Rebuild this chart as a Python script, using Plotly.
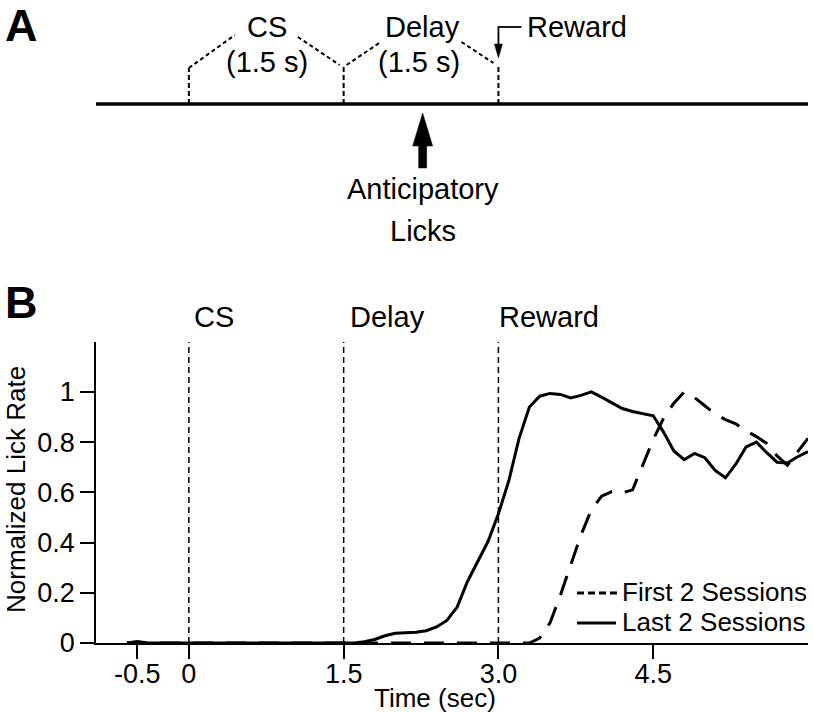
import plotly.graph_objects as go

# ---------------- data ----------------
last_t = [-0.6, -0.5, -0.4, 1.6, 1.7, 1.8, 1.9, 2.0, 2.1, 2.2, 2.3, 2.4, 2.5, 2.6, 2.7, 2.8, 2.9,
          3.0, 3.1, 3.2, 3.3, 3.4, 3.5, 3.6, 3.7, 3.8, 3.9, 4.0, 4.1, 4.2, 4.3, 4.4, 4.5, 4.6,
          4.7, 4.8, 4.9, 5.0, 5.1, 5.2, 5.3, 5.4, 5.5, 5.6, 5.7, 5.8, 5.9, 6.0]
last_y = [0.0, 0.006, 0.0, 0.0, 0.005, 0.014, 0.029, 0.039, 0.041, 0.043, 0.049, 0.064, 0.090,
          0.143, 0.245, 0.325, 0.405, 0.515, 0.645, 0.815, 0.94, 0.983, 0.994, 0.99, 0.976,
          0.986, 1.0, 0.979, 0.955, 0.934, 0.922, 0.913, 0.905, 0.84, 0.765, 0.73, 0.755,
          0.738, 0.687, 0.658, 0.712, 0.781, 0.80, 0.758, 0.72, 0.717, 0.742, 0.762]

first_t = [-0.6, 3.3, 3.4, 3.5, 3.6, 3.7, 3.8, 3.9, 4.0, 4.1, 4.2, 4.3, 4.4, 4.5, 4.6, 4.7,
           4.8, 4.9, 5.0, 5.1, 5.2, 5.3, 5.4, 5.5, 5.6, 5.7, 5.8, 5.9, 6.0]
first_y = [0.0, 0.0, 0.02, 0.08, 0.19, 0.31, 0.43, 0.53, 0.585, 0.603, 0.598, 0.61, 0.71,
           0.81, 0.895, 0.955, 1.0, 0.978, 0.945, 0.912, 0.89, 0.873, 0.845, 0.822, 0.795,
           0.745, 0.708, 0.762, 0.815]

event_times = [0.0, 1.5, 3.0]
event_labels = ["CS", "Delay", "Reward"]
series_names = ["First 2 Sessions", "Last 2 Sessions"]

x_tickvals = [-0.5, 0.0, 1.5, 3.0, 4.5]
x_ticktext = ["-0.5", "0", "1.5", "3.0", "4.5"]
y_tickvals = [0, 0.2, 0.4, 0.6, 0.8, 1.0]
y_ticktext = ["0", "0.2", "0.4", "0.6", "0.8", "1"]

# ---------------- layout constants ----------------
W, H = 813, 712
ML, MR, MT, MB = 96, 5, 0, 69
PH = H - MT - MB          # plot-area height in px
PW = W - ML - MR
FONT = "Liberation Sans, Arial, Helvetica, sans-serif"
BLACK = "black"


def yp(py):
    """pixel row -> paper y"""
    return 1 - (py - MT) / PH


def xp(px):
    """pixel column -> paper x"""
    return (px - ML) / PW


X_RANGE = [-0.9, 6.0]
UNIT = PW / (X_RANGE[1] - X_RANGE[0])   # px per second

fig = go.Figure()

fig.add_trace(go.Scatter(x=first_t, y=first_y, mode="lines", name=series_names[0],
                         line=dict(color=BLACK, width=3, dash="20px,13px"),
                         showlegend=False))
fig.add_trace(go.Scatter(x=last_t, y=last_y, mode="lines", name=series_names[1],
                         line=dict(color=BLACK, width=3),
                         showlegend=False))

shapes = []
annotations = []

# ---------- panel B: event lines and labels ----------
label_shift = [6, 7, 2]
for t, lab, sh in zip(event_times, event_labels, label_shift):
    shapes.append(dict(type="line", xref="x", yref="y", x0=t, x1=t, y0=0, y1=1.2,
                       line=dict(color=BLACK, width=1.5, dash="6px,4px")))
    annotations.append(dict(text=lab, x=t, xref="x", y=yp(317), yref="paper",
                            xanchor="left", yanchor="middle", xshift=sh - 3,
                            showarrow=False, font=dict(size=29, family=FONT, color=BLACK)))

# legend (drawn manually)
shapes.append(dict(type="line", xref="paper", yref="paper", x0=xp(577), x1=xp(618),
                   y0=yp(593), y1=yp(593), line=dict(color=BLACK, width=3, dash="7px,4px")))
shapes.append(dict(type="line", xref="paper", yref="paper", x0=xp(577), x1=xp(616),
                   y0=yp(623), y1=yp(623), line=dict(color=BLACK, width=3)))
for name, py in zip(series_names, [592, 622]):
    annotations.append(dict(text=name, x=xp(620), xref="paper", y=yp(py), yref="paper",
                            xanchor="left", yanchor="middle", showarrow=False,
                            font=dict(size=26, family=FONT, color=BLACK)))

# axis titles
annotations.append(dict(text="Normalized Lick Rate", x=xp(16), xref="paper", y=yp(490),
                        yref="paper", xanchor="center", yanchor="middle", textangle=-90,
                        showarrow=False, font=dict(size=26, family=FONT, color=BLACK)))
annotations.append(dict(text="Time (sec)", x=xp(435), xref="paper", y=yp(698), yref="paper",
                        xanchor="center", yanchor="middle", showarrow=False,
                        font=dict(size=26, family=FONT, color=BLACK)))

# panel letters
for letter, py in [("A", 26), ("B", 302)]:
    annotations.append(dict(text="<b>%s</b>" % letter, x=xp(21), xref="paper", y=yp(py),
                            yref="paper", xanchor="center", yanchor="middle", showarrow=False,
                            font=dict(size=45, family=FONT, color=BLACK)))

# ---------- panel A: schematic timeline ----------
def dx(px_offset):
    return px_offset / UNIT


line_py = 104
shapes.append(dict(type="line", xref="paper", yref="paper", x0=0, x1=1,
                   y0=yp(line_py), y1=yp(line_py), line=dict(color=BLACK, width=3.5)))
tick_tops = [68, 67, 65]
for t, top in zip(event_times, tick_tops):
    shapes.append(dict(type="line", xref="x", yref="paper", x0=t, x1=t,
                       y0=yp(line_py), y1=yp(top),
                       line=dict(color=BLACK, width=2, dash="5px,3px")))

# dotted "roof" segments around the period labels
cs_t, delay_t, rew_t = event_times
roofs = [
    (cs_t, 68, cs_t + dx(46), 35),
    (cs_t + dx(109), 37, delay_t - dx(4), 65),
    (delay_t + dx(3), 65, delay_t + dx(37), 42),
    (rew_t - dx(37), 42, rew_t - dx(5), 63),
]
for x0, y0, x1, y1 in roofs:
    shapes.append(dict(type="line", xref="x", yref="paper", x0=x0, x1=x1,
                       y0=yp(y0), y1=yp(y1),
                       line=dict(color=BLACK, width=2, dash="4px,3px")))

# reward elbow arrow
shapes.append(dict(type="line", xref="x", yref="paper", x0=rew_t, x1=rew_t,
                   y0=yp(27), y1=yp(47), line=dict(color=BLACK, width=1.8)))
shapes.append(dict(type="line", xref="x", yref="paper", x0=rew_t - dx(0.9), x1=rew_t + dx(23),
                   y0=yp(27), y1=yp(27), line=dict(color=BLACK, width=1.8)))
hw = dx(4)
shapes.append(dict(type="path", xref="x", yref="paper",
                   path="M %f,%f L %f,%f L %f,%f Z" % (rew_t - hw, yp(44), rew_t + hw, yp(44),
                                                      rew_t, yp(58)),
                   fillcolor=BLACK, line=dict(color=BLACK, width=0.5)))

# big "anticipatory licks" arrow
ax = delay_t + dx(79)
sw, hw2 = dx(4), dx(10)
path = ("M {a},{b} L {a},{c} L {d},{c} L {e},{f} L {g},{c} L {h},{c} L {h},{b} Z".format(
    a=ax - sw, b=yp(168), c=yp(146), d=ax - hw2, e=ax, f=yp(113), g=ax + hw2, h=ax + sw))
shapes.append(dict(type="path", xref="x", yref="paper", path=path,
                   fillcolor=BLACK, line=dict(color=BLACK, width=0.5)))

fontA = dict(size=29, family=FONT, color=BLACK)
annotations += [
    dict(text="CS", x=cs_t + dx(78), y=yp(27)),
    dict(text="(1.5 s)", x=cs_t + dx(78), y=yp(62)),
    dict(text="Delay", x=delay_t + dx(79), y=yp(27)),
    dict(text="(1.5 s)", x=delay_t + dx(75), y=yp(62)),
    dict(text="Anticipatory", x=ax, y=yp(189)),
    dict(text="Licks", x=ax, y=yp(231)),
]
for a in annotations[-6:]:
    a.update(xref="x", yref="paper", xanchor="center", yanchor="middle",
             showarrow=False, font=fontA)
annotations.append(dict(text="Reward", x=rew_t + dx(27), xref="x", y=yp(27), yref="paper",
                        xanchor="left", yanchor="middle", showarrow=False, font=fontA))

fig.update_layout(
    width=W, height=H,
    margin=dict(l=ML, r=MR, t=MT, b=MB, pad=0),
    paper_bgcolor="white", plot_bgcolor="white",
    showlegend=False,
    font=dict(family=FONT, color=BLACK, size=25),
    shapes=shapes,
    annotations=annotations,
    xaxis=dict(range=X_RANGE, tickvals=x_tickvals, ticktext=x_ticktext,
               ticks="outside", ticklen=14, tickwidth=1.5, tickcolor=BLACK,
               ticklabelstandoff=-8,
               showline=True, linecolor=BLACK, linewidth=1.5,
               showgrid=False, zeroline=False,
               tickfont=dict(size=27, family=FONT, color=BLACK)),
    yaxis=dict(range=[0, 1.2], domain=[0, yp(341.7)], tickvals=y_tickvals,
               ticktext=y_ticktext, ticks="outside", ticklen=14, tickwidth=1.5,
               tickcolor=BLACK, showline=True, linecolor=BLACK, linewidth=1.5,
               showgrid=False, zeroline=False,
               tickfont=dict(size=27, family=FONT, color=BLACK)),
)

fig.write_html("out.html", config={"displayModeBar": False},
               post_script="document.body.style.margin='0px';document.body.style.padding='0px';")
